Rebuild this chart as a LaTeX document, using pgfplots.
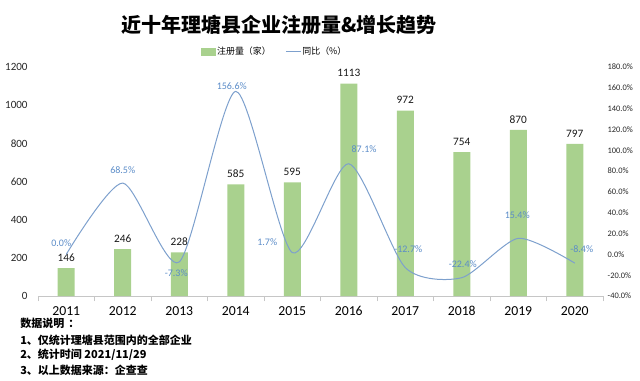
\documentclass[border=0pt]{standalone}
\usepackage{fontspec}
\setmainfont{Carlito}
\newfontfamily\cjk{Noto Sans CJK SC}
\usepackage{pgfplots}
\pgfplotsset{compat=1.18}
\definecolor{barg}{RGB}{169,209,142}
\definecolor{lineb}{RGB}{125,160,205}
\definecolor{labb}{RGB}{91,140,200}
\begin{document}
\begin{tikzpicture}
\path[use as bounding box] (0,0) rectangle (480pt,285pt);
\begin{axis}[
  at={(28.5pt,63pt)}, anchor=south west,
  scale only axis, width=423.75pt, height=171.75pt,
  xmin=-0.5, xmax=9.5, ymin=0, ymax=1200,
  ytick={0,200,...,1200},
  xtick={0,...,9}, xticklabels={2011,2012,2013,2014,2015,2016,2017,2018,2019,2020},
  minor xtick={-0.5,0.5,...,9.5},
  axis x line*=bottom, axis y line*=left,
  x axis line style={draw=gray!45},
  y axis line style={draw=none},
  ytick style={draw=none},
  major x tick style={draw=none},
  minor x tick style={draw=gray!45},
  tick align=outside, minor tick length=4pt,
  /pgf/number format/assume math mode=true,
  /pgf/number format/1000 sep={},
  xticklabel style={font=\fontsize{10.3}{12}\selectfont, text=black},
  yticklabel style={font=\fontsize{8.3}{10}\selectfont, text=black!85},
  bar width=12.75pt,
  nodes near coords,
  nodes near coords style={font=\fontsize{8.5}{10}\selectfont, text=black!90, yshift=1.5pt},
]
\addplot[ybar, fill=barg, draw=none] coordinates {
(0,146) (1,246) (2,228) (3,585) (4,595) (5,1113) (6,972) (7,754) (8,870) (9,797)};
\end{axis}
\begin{axis}[
  at={(28.5pt,63pt)}, anchor=south west,
  scale only axis, width=423.75pt, height=171.75pt,
  xmin=-0.5, xmax=9.5, ymin=-40, ymax=180,
  axis y line*=right, axis x line=none,
  y axis line style={draw=none}, ytick style={draw=none},
  ytick={-40,-20,...,180},
  /pgf/number format/assume math mode=true,
  yticklabel={\pgfmathprintnumber[fixed,fixed zerofill,precision=1]{\tick}\%},
  yticklabel style={font=\fontsize{6.3}{8}\selectfont, text=black!85},
  legend columns=2,
  legend style={at={(0.418,1.066)}, anchor=center, draw=none, fill=none,
    font=\cjk\fontsize{6.7}{8}\selectfont,
    /tikz/every even column/.append style={column sep=10pt},
    nodes={inner sep=1pt}},
]
\addlegendimage{legend image code/.code={\fill[barg] (0pt,-2.6pt) rectangle (11pt,2.6pt);}}
\addlegendentry{注册量（家）}
\addplot[lineb, line width=0.75pt, smooth, tension=0.42,
  legend image code/.code={\draw[lineb, line width=0.75pt] (0pt,0pt) -- (11pt,0pt);}] coordinates {
(0,0.0) (1,68.5) (2,-7.3) (3,156.6) (4,1.7) (5,87.1) (6,-12.7) (7,-22.4) (8,15.4) (9,-8.4)};
\addlegendentry{同比（\%）}
\begin{scope}[every node/.style={font=\fontsize{7.5}{9}\selectfont, text=labb}]
\node[xshift=-3.75pt,yshift=8.25pt] at (axis cs:0,0.0) {0.0\%};
\node[yshift=9.75pt] at (axis cs:1,68.5) {68.5\%};
\node[xshift=-2.25pt,yshift=-8.25pt] at (axis cs:2,-7.3) {-7.3\%};
\node[xshift=-3pt,yshift=4pt] at (axis cs:3,156.6) {156.6\%};
\node[xshift=-18.75pt,yshift=7.5pt] at (axis cs:4,1.7) {1.7\%};
\node[xshift=11.5pt,yshift=11.25pt] at (axis cs:5,87.1) {87.1\%};
\node[xshift=2.25pt,yshift=13.5pt] at (axis cs:6,-12.7) {-12.7\%};
\node[xshift=0.75pt,yshift=10.5pt] at (axis cs:7,-22.4) {-22.4\%};
\node[xshift=-0.75pt,yshift=17.25pt] at (axis cs:8,15.4) {15.4\%};
\node[xshift=5.25pt,yshift=10.5pt] at (axis cs:9,-8.4) {-8.4\%};
\end{scope}
\end{axis}
\node[font=\cjk\bfseries\fontsize{15}{18}\selectfont] at (209.25pt,266.25pt) {近十年理塘县企业注册量\&增长趋势};
\begin{scope}[every node/.style={anchor=west, inner sep=0pt, font=\cjk\bfseries\fontsize{8.25}{10}\selectfont}]
\node at (15pt,42.75pt) {数据说明\hspace{3pt}：};
\node at (15pt,30pt) {1、仅统计理塘县范围内的全部企业};
\node at (15pt,18.75pt) {2、统计时间 2021/11/29};
\node at (15pt,7.5pt) {3、以上数据来源：企查查};
\end{scope}
\end{tikzpicture}
\end{document}
